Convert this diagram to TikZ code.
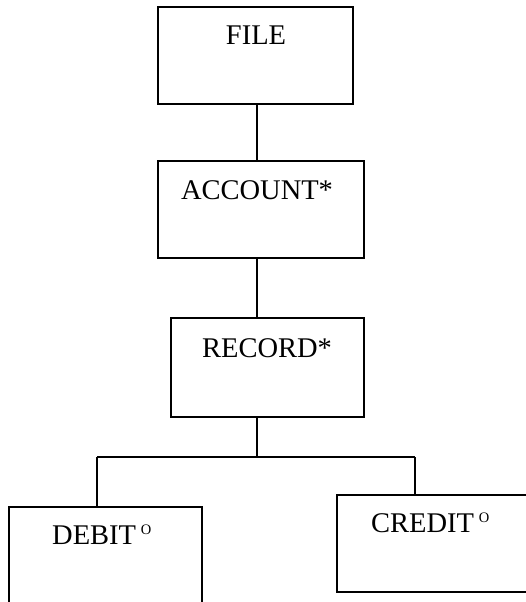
\documentclass[tikz,border=0pt]{standalone}
\usepackage{fontspec}
\setmainfont{Liberation Serif}
\begin{document}
\begin{tikzpicture}[x=1pt,y=-1pt,
  box/.style={draw,line width=1.6pt,rectangle,inner sep=0pt},
  lbl/.style={inner sep=0pt,font=\fontsize{28.5}{34}\selectfont},
  link/.style={line width=1.6pt}]
\useasboundingbox (0,0) rectangle (526,602);
\clip (0,0) rectangle (526,602);
\node[box,minimum width=195pt,minimum height=97pt] (file) at (255.5,55.5) {};
\node[box,minimum width=206pt,minimum height=97pt] (account) at (261,209.5) {};
\node[box,minimum width=193pt,minimum height=99pt] (record) at (267.5,367.5) {};
\node[box,minimum width=193pt,minimum height=130pt] (debit) at (105.5,572) {};
\node[box,minimum width=210pt,minimum height=97pt] (credit) at (442,543.5) {};
\node[lbl,anchor=base] (tfile) at (256,45) {FILE};
\node[lbl,anchor=base] (taccount) at (257,199) {ACCOUNT*};
\node[lbl,anchor=base] (trecord) at (267,357) {RECORD*};
\node[lbl,anchor=base west] (tdebit) at (52,544) {DEBIT\,\raisebox{9.4pt}{\fontsize{14.5}{16}\selectfont O}};
\node[lbl,anchor=base west] (tcredit) at (371,532) {CREDIT\,\raisebox{9.4pt}{\fontsize{14.5}{16}\selectfont O}};
\coordinate (j) at (257,457);
\coordinate (jl) at (97,457);
\coordinate (jr) at (415,457);
\draw[link] (file.south -| j) -- (account.north -| j);
\draw[link] (account.south -| j) -- (record.north -| j);
\draw[link] (record.south -| j) -- (j);
\draw[link] (jl) -- (jr);
\draw[link] (jl) -- (debit.north -| jl);
\draw[link] (jr) -- (credit.north -| jr);
\end{tikzpicture}
\end{document}
